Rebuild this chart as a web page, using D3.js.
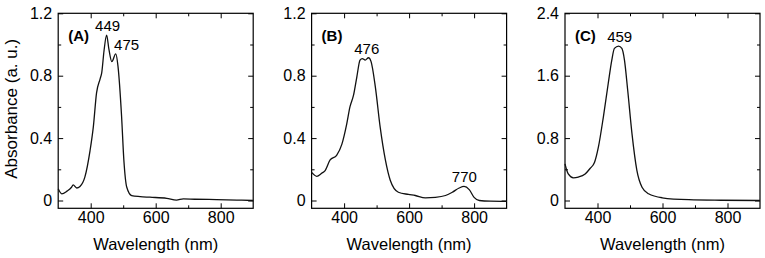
<!DOCTYPE html>
<html>
<head>
<meta charset="utf-8">
<script src="https://cdn.jsdelivr.net/npm/d3@7"></script>
<style>
body { margin: 0; background: #fff; }
text { font-family: "Liberation Sans", Arial, Helvetica, sans-serif; fill: #000; }
</style>
</head>
<body>
<div id="chart"></div>
<script>
// spectra (nm, absorbance)
const wavelengthA = [300, 311, 327, 341, 346, 357, 367, 382, 398, 408, 418, 429, 434, 441, 449, 456, 465, 477, 484, 495, 502, 511, 526, 552, 582, 634, 664, 685, 720, 787, 850, 900];
const absorbanceA = [0.075, 0.043, 0.06, 0.085, 0.10, 0.08, 0.09, 0.15, 0.32, 0.47, 0.69, 0.78, 0.82, 0.96, 1.06, 0.97, 0.89, 0.94, 0.86, 0.54, 0.26, 0.085, 0.032, 0.025, 0.021, 0.014, 0.003, 0.010, 0.008, 0.006, 0.003, 0.0];

const wavelengthB = [300, 316, 331, 341, 357, 377, 393, 408, 418, 429, 439, 449, 456, 465, 475, 483, 496, 511, 527, 542, 567, 598, 619, 650, 681, 712, 733, 754, 769, 785, 800, 816, 850, 900];
const absorbanceB = [0.18, 0.155, 0.175, 0.19, 0.26, 0.29, 0.36, 0.49, 0.60, 0.675, 0.79, 0.90, 0.91, 0.90, 0.915, 0.89, 0.73, 0.47, 0.26, 0.13, 0.053, 0.039, 0.032, 0.017, 0.02, 0.032, 0.053, 0.08, 0.09, 0.07, 0.02, 0.0, -0.004, -0.005];

const wavelengthC = [300, 310, 326, 341, 362, 377, 391, 403, 418, 433, 444, 452, 465, 475, 483, 493, 506, 521, 537, 557, 599, 681, 780, 900];
const absorbanceC = [0.47, 0.34, 0.29, 0.30, 0.34, 0.41, 0.49, 0.69, 1.07, 1.50, 1.80, 1.95, 1.98, 1.95, 1.80, 1.41, 0.86, 0.39, 0.17, 0.086, 0.035, 0.01, 0.003, 0.0];

const panelNames = ["(A)", "(B)", "(C)"];
const yDomains = [[-0.05, 1.2], [-0.05, 1.2], [-0.1, 2.4]];
const yMajorTicks = [[0, 0.4, 0.8, 1.2], [0, 0.4, 0.8, 1.2], [0, 0.8, 1.6, 2.4]];
const yMinorTicks = [[0.2, 0.6, 1.0], [0.2, 0.6, 1.0], [0.4, 1.2, 2.0]];
const xMajorTicks = [400, 600, 800];
const xMinorTicks = [500, 700];

// peak labels: [wavelength, absorbance at peak, label]
const peaksA = [[449, 1.06, "449"], [475, 0.94, "475"]];
const peaksB = [[476, 0.915, "476"], [770, 0.09, "770"]];
const peaksC = [[459, 1.98, "459"]];

const panels = [
	{ wl: wavelengthA, ab: absorbanceA, peaks: peaksA, left: 58.2 },
	{ wl: wavelengthB, ab: absorbanceB, peaks: peaksB, left: 311.6 },
	{ wl: wavelengthC, ab: absorbanceC, peaks: peaksC, left: 565 }
];

const width = 765, height = 258;
const boxW = 195, boxTop = 13.3, boxH = 195;

const svg = d3.select("#chart").append("svg")
	.attr("width", width)
	.attr("height", height);

const fy = d => d === 0 ? "0" : d3.format(".1f")(d);

panels.forEach(function(p, k) {
	const x = d3.scaleLinear().domain([300, 900]).range([0, boxW]);
	const y = d3.scaleLinear().domain(yDomains[k]).range([boxH, 0]);

	const g = svg.append("g")
		.attr("transform", `translate(${p.left},${boxTop})`);

	// ticks pointing inward; labels only on major ticks
	function addAxis(axisFn, scale, ticks, size, fmt, pad, tr) {
		const a = axisFn(scale).tickValues(ticks).tickSizeInner(size).tickSizeOuter(0)
			.tickFormat(fmt || "").tickPadding(pad);
		const ag = g.append("g").attr("transform", tr).call(a);
		ag.select(".domain").remove();
		ag.selectAll("line").attr("stroke", "#000").attr("stroke-width", 1);
		ag.selectAll("text").style("font-size", "16px").attr("fill", "#000")
			.style("font-family", "'Liberation Sans', Arial, sans-serif");
	}

	addAxis(d3.axisBottom, x, xMajorTicks, -5, d3.format("d"), 3, `translate(0,${boxH})`);
	addAxis(d3.axisBottom, x, xMinorTicks, -3, null, 0, `translate(0,${boxH})`);
	addAxis(d3.axisTop, x, xMajorTicks, -5, null, 0, "translate(0,0)");
	addAxis(d3.axisTop, x, xMinorTicks, -3, null, 0, "translate(0,0)");
	addAxis(d3.axisLeft, y, yMajorTicks[k], -5, fy, 6, "translate(0,0)");
	addAxis(d3.axisLeft, y, yMinorTicks[k], -3, null, 0, "translate(0,0)");
	addAxis(d3.axisRight, y, yMajorTicks[k], -5, null, 0, `translate(${boxW},0)`);
	addAxis(d3.axisRight, y, yMinorTicks[k], -3, null, 0, `translate(${boxW},0)`);

	g.append("rect")
		.attr("width", boxW)
		.attr("height", boxH)
		.attr("fill", "none")
		.attr("stroke", "#000")
		.attr("stroke-width", 1.2);

	const line = d3.line()
		.x((d, i) => x(p.wl[i]))
		.y(d => y(d))
		.curve(d3.curveMonotoneX);

	g.append("path")
		.datum(p.ab)
		.attr("d", line)
		.attr("fill", "none")
		.attr("stroke", "#111")
		.attr("stroke-width", 1.3);

	g.append("text")
		.attr("x", 10)
		.attr("y", 27.5)
		.style("font-size", "15px")
		.style("font-weight", "bold")
		.text(panelNames[k]);

	p.peaks.forEach(function(pk, j) {
		let dx = 0, anchor = "middle";
		if (k === 0 && j === 1) { dx = -1; anchor = "start"; }
		if (k === 0 && j === 0) dx = 1;
		if (k === 1 && j === 0) dx = -2;
		if (k === 2) dx = 3;
		g.append("text")
			.attr("x", x(pk[0]) + dx)
			.attr("y", y(pk[1]) - 4)
			.attr("text-anchor", anchor)
			.style("font-size", "15px")
			.text(pk[2]);
	});

	g.append("text")
		.attr("x", boxW / 2)
		.attr("y", 237)
		.attr("text-anchor", "middle")
		.style("font-size", "16.5px")
		.text("Wavelength (nm)");

	if (k === 0) {
		g.append("text")
			.attr("transform", `translate(${-41},${boxH / 2 - 2}) rotate(-90)`)
			.attr("text-anchor", "middle")
			.style("font-size", "17px")
			.text("Absorbance (a. u.)");
	}
});
</script>
</body>
</html>
